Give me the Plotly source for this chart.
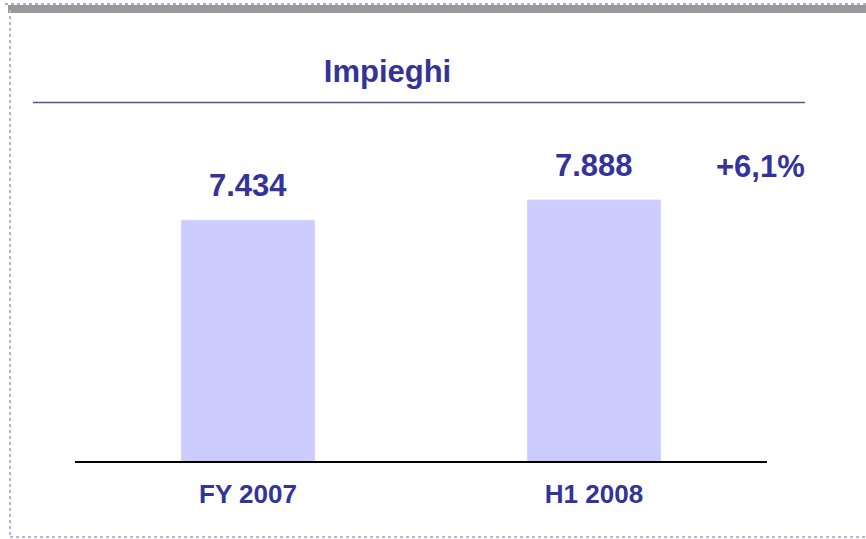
import plotly.graph_objects as go

# data
periods = ["FY 2007", "H1 2008"]
impieghi = [7434, 7888]
title_text = "Impieghi"

BLUE = "#333399"
BAR = "#ccccff"
FONT = "Liberation Sans, Arial, sans-serif"

W, H = 866, 539
L, R, T, B = 75, 99, 30, 78
PW, PH = W - L - R, H - T - B


def px(x):
    return (x - L) / PW


def py(y):
    return (H - B - y) / PH


def it(v):
    return f"{v:,}".replace(",", ".")


growth = (impieghi[1] / impieghi[0] - 1) * 100
growth_txt = ("+" if growth >= 0 else "") + f"{growth:.1f}".replace(".", ",") + "%"

fig = go.Figure()
fig.add_trace(go.Bar(x=periods, y=impieghi, marker_color=BAR, width=0.387,
                     hoverinfo="skip"))

# value labels above bars
for p, v in zip(periods, impieghi):
    fig.add_annotation(x=p, y=v, text=f"<b>{it(v)}</b>", showarrow=False,
                       yanchor="bottom", yshift=15,
                       font=dict(family=FONT, size=31, color=BLUE))

fig.add_annotation(xref="paper", yref="paper", x=px(760), y=py(167),
                   text=f"<b>{growth_txt}</b>", showarrow=False,
                   xanchor="center", yanchor="middle",
                   font=dict(family=FONT, size=31, color=BLUE))

shapes = [
    # frame decorations
    dict(type="rect", xref="paper", yref="paper", x0=px(8), x1=px(866),
         y0=py(13), y1=py(5), fillcolor="#999999", line_width=0),
    dict(type="line", xref="paper", yref="paper", x0=px(5), x1=px(866),
         y0=py(4), y1=py(4), line=dict(color="#aaaadd", width=2, dash="dot")),
    dict(type="line", xref="paper", yref="paper", x0=px(10), x1=px(10),
         y0=py(10), y1=py(537), line=dict(color="#b4b4e0", width=2, dash="dot")),
    dict(type="line", xref="paper", yref="paper", x0=px(10), x1=px(866),
         y0=py(537), y1=py(537), line=dict(color="#b4b4e0", width=2, dash="dot")),
    # rule under title
    dict(type="line", xref="paper", yref="paper", x0=px(33), x1=px(805),
         y0=py(102.5), y1=py(102.5), line=dict(color="#55559a", width=1.5)),
]

fig.update_layout(
    width=W, height=H,
    margin=dict(l=L, r=R, t=T, b=B),
    paper_bgcolor="white", plot_bgcolor="white",
    showlegend=False,
    title=dict(text=f"<b>{title_text}</b>", xref="container", yref="container",
               x=387.5 / W, y=1 - 71.5 / H, xanchor="center", yanchor="middle",
               font=dict(family=FONT, size=31, color=BLUE)),
    shapes=shapes,
    xaxis=dict(showline=True, linecolor="black", linewidth=2, ticks="",
               showgrid=False, range=[-0.5, 1.5],
               tickfont=dict(family=FONT, size=26, color=BLUE),
               tickvals=periods, ticktext=[f"<b>{p}</b>" for p in periods],
               ticklabelstandoff=9),
    yaxis=dict(visible=False, range=[2000, 2000 + PH / 0.04435]),
)

# drop the page's default body margin so the figure sits at the window's corner
fig.write_html("out.html", config={"displayModeBar": False},
               post_script="document.body.style.margin='0';")
